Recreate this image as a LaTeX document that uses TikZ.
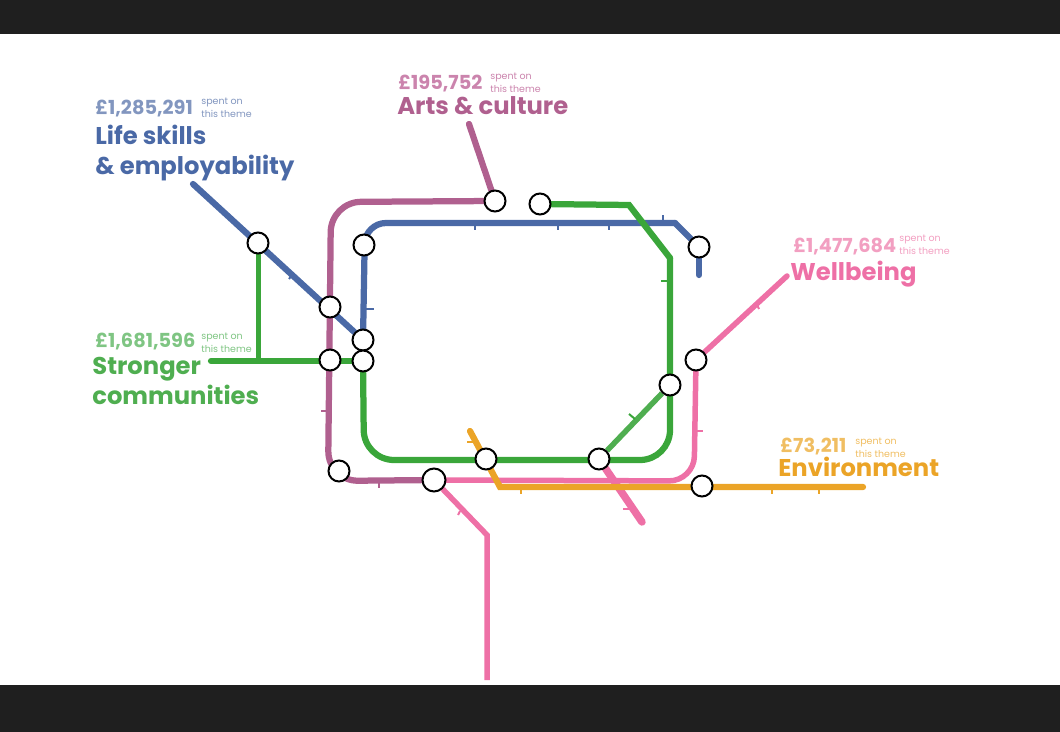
\documentclass[tikz,border=0pt]{standalone}
\usepackage{fontspec}
\setmainfont{Poppins}
\usetikzlibrary{backgrounds}
\definecolor{lineblue}{HTML}{4A69A6}
\definecolor{linepurple}{HTML}{B0608F}
\definecolor{linegreen}{HTML}{3AA63A}
\definecolor{lightgreen}{HTML}{4FAE50}
\definecolor{linepink}{HTML}{EE70A6}
\definecolor{lineorange}{HTML}{EBA427}
\definecolor{amtblue}{HTML}{8296BF}
\definecolor{amtpurple}{HTML}{CB84AD}
\definecolor{amtgreen}{HTML}{7FC583}
\definecolor{amtpink}{HTML}{F29FC1}
\definecolor{amtorange}{HTML}{F0BE62}
\definecolor{barblack}{HTML}{1F1F1F}
\tikzset{
  station/.style={circle,draw=black,fill=white,line width=0.04cm,minimum size=0.42cm,inner sep=0pt},
  bigstation/.style={station,minimum size=0.46cm},
  metro/.style={line width=0.125cm,line cap=round},
  tick/.style={line width=0.04cm},
  amount/.style={anchor=base west,inner sep=0pt,font=\fontsize{11}{13}\selectfont\bfseries},
  spent/.style={anchor=base west,inner sep=0pt,align=left,font=\fontsize{5.4}{7.4}\selectfont},
  theme/.style={anchor=base west,inner sep=0pt,align=left,font=\fontsize{13.8}{17.4}\selectfont\bfseries},
}
\begin{document}
\begin{tikzpicture}[x=0.02cm,y=-0.02cm]
  \useasboundingbox (0,0) rectangle (1060,732);
  \node[station] (lifeA) at (258,243) {};
  \node[station] (crossA) at (330,307) {};
  \node[station] (crossB) at (330,360) {};
  \node[station] (innerA) at (364,245) {};
  \node[station] (innerB) at (363,340) {};
  \node[station] (innerC) at (363,361) {};
  \node[station] (artsA) at (495,201) {};
  \node[station] (topA) at (540,204) {};
  \node[station] (blueEnd) at (699,247) {};
  \node[station] (wellA) at (696,360) {};
  \node[station] (ringA) at (670,385) {};
  \node[station] (ringB) at (486,459) {};
  \node[station] (ringC) at (599,459) {};
  \node[station] (lowA) at (339,471) {};
  \node[bigstation] (lowB) at (434,480) {};
  \node[station] (envA) at (702,486) {};
  \coordinate (blueFree) at (193,184);
  \coordinate (blueTail) at (699,275);
  \coordinate (blueCornerA) at (365,223);
  \coordinate (blueCornerB) at (675,223);
  \coordinate (artsFree) at (469,124);
  \coordinate (purpleCornerA) at (331,202);
  \coordinate (purpleCornerB) at (328,481);
  \coordinate (greenFree) at (211,361);
  \coordinate (greenFoot) at (258,361);
  \coordinate (greenCornerA) at (364,460);
  \coordinate (greenCornerB) at (670,460);
  \coordinate (greenBendA) at (670,258);
  \coordinate (greenBendB) at (629,205);
  \coordinate (wellFree) at (787,276);
  \coordinate (pinkCorner) at (694,481);
  \coordinate (pinkBend) at (487,535);
  \coordinate (pinkFree) at (487,680);
  \coordinate (pinkTail) at (642,522);
  \coordinate (envFree) at (470,431);
  \coordinate (envBend) at (500,487);
  \coordinate (envEnd) at (863,487);
  \begin{scope}[on background layer]
    \fill[barblack] (0,0) rectangle (1060,34);
    \fill[barblack] (0,685) rectangle (1060,732);
    \draw[metro,lineblue] (blueFree) -- (innerB);
    \draw[metro,lineblue,rounded corners=0.42cm] (innerB) -- (blueCornerA) -- (blueCornerB);
    \draw[metro,lineblue] (blueCornerB) -- (blueEnd);
    \draw[metro,lineblue] (blueEnd) -- (blueTail);
    \draw[tick,lineblue] (289,279) -- (292,275);
    \draw[tick,lineblue] (365,309) -- (374,309);
    \draw[tick,lineblue] (475,223) -- (475,230);
    \draw[tick,lineblue] (558,223) -- (558,230);
    \draw[tick,lineblue] (609,223) -- (609,230);
    \draw[tick,lineblue] (663,223) -- (663,215);
    \draw[metro,linepurple] (artsFree) -- (artsA);
    \draw[metro,linepurple,rounded corners=0.6cm] (artsA) -- (purpleCornerA) -- (purpleCornerB) -- (lowB);
    \draw[tick,linepurple] (330,411) -- (321,411);
    \draw[tick,linepurple] (379,481) -- (379,488);
    \draw[metro,linepink,line width=0.11cm] (wellFree) -- (wellA);
    \draw[metro,linepink,line width=0.11cm,rounded corners=0.5cm] (wellA) -- (pinkCorner) -- (lowB);
    \draw[metro,linepink,line width=0.11cm,line cap=butt] (lowB) -- (pinkBend) -- (pinkFree);
    \draw[metro,linepink,line width=0.15cm] (ringC) -- (pinkTail);
    \draw[tick,linepink] (757,305) -- (759,309);
    \draw[tick,linepink] (696,431) -- (703,431);
    \draw[tick,linepink] (460,511) -- (458,515);
    \draw[tick,linepink] (623,509) -- (630,509);
    \draw[metro,linegreen] (greenFree) -- (innerC);
    \draw[metro,linegreen,line width=0.1cm,line cap=butt] (lifeA) -- (greenFoot);
    \draw[metro,linegreen,rounded corners=0.6cm] (innerC) -- (greenCornerA) -- (greenCornerB) -- (greenBendA);
    \draw[metro,linegreen] (greenBendA) -- (greenBendB) -- (topA);
    \draw[metro,lightgreen,line width=0.11cm,line cap=butt] (ringA) -- (ringC);
    \draw[tick,linegreen] (670,281) -- (661,281);
    \draw[tick,linegreen] (635,419) -- (629,414);
    \draw[metro,lineorange] (envFree) -- (envBend) -- (envEnd);
    \draw[tick,lineorange] (521,487) -- (521,494);
    \draw[tick,lineorange] (772,487) -- (772,494);
    \draw[tick,lineorange] (819,487) -- (819,494);
    \draw[tick,lineorange] (476,442) -- (467,442);
  \end{scope}
  \node[amount,text=amtblue] (lifeAmount) at (95,115) {£1,285,291};
  \node[spent,text=amtblue] (lifeSpent) at (201,118) {spent on\\this theme};
  \node[theme,text=lineblue] (lifeTheme) at (95,175) {Life skills\\\& employability};
  \node[amount,text=amtgreen] (strongAmount) at (95,348) {£1,681,596};
  \node[spent,text=amtgreen] (strongSpent) at (201,353) {spent on\\this theme};
  \node[theme,text=lightgreen] (strongTheme) at (92,405) {Stronger\\communities};
  \node[amount,text=amtpurple] (artsAmount) at (398,90) {£195,752};
  \node[spent,text=amtpurple] (artsSpent) at (490,93) {spent on\\this theme};
  \node[theme,text=linepurple] (artsTheme) at (397,115) {Arts \& culture};
  \node[amount,text=amtpink] (wellAmount) at (793,253) {£1,477,684};
  \node[spent,text=amtpink] (wellSpent) at (899,255) {spent on\\this theme};
  \node[theme,text=linepink] (wellTheme) at (790,281) {Wellbeing};
  \node[amount,text=amtorange] (envAmount) at (780,453) {£73,211};
  \node[spent,text=amtorange] (envSpent) at (855,458) {spent on\\this theme};
  \node[theme,text=lineorange] (envTheme) at (778,476) {Environment};
\end{tikzpicture}
\end{document}
